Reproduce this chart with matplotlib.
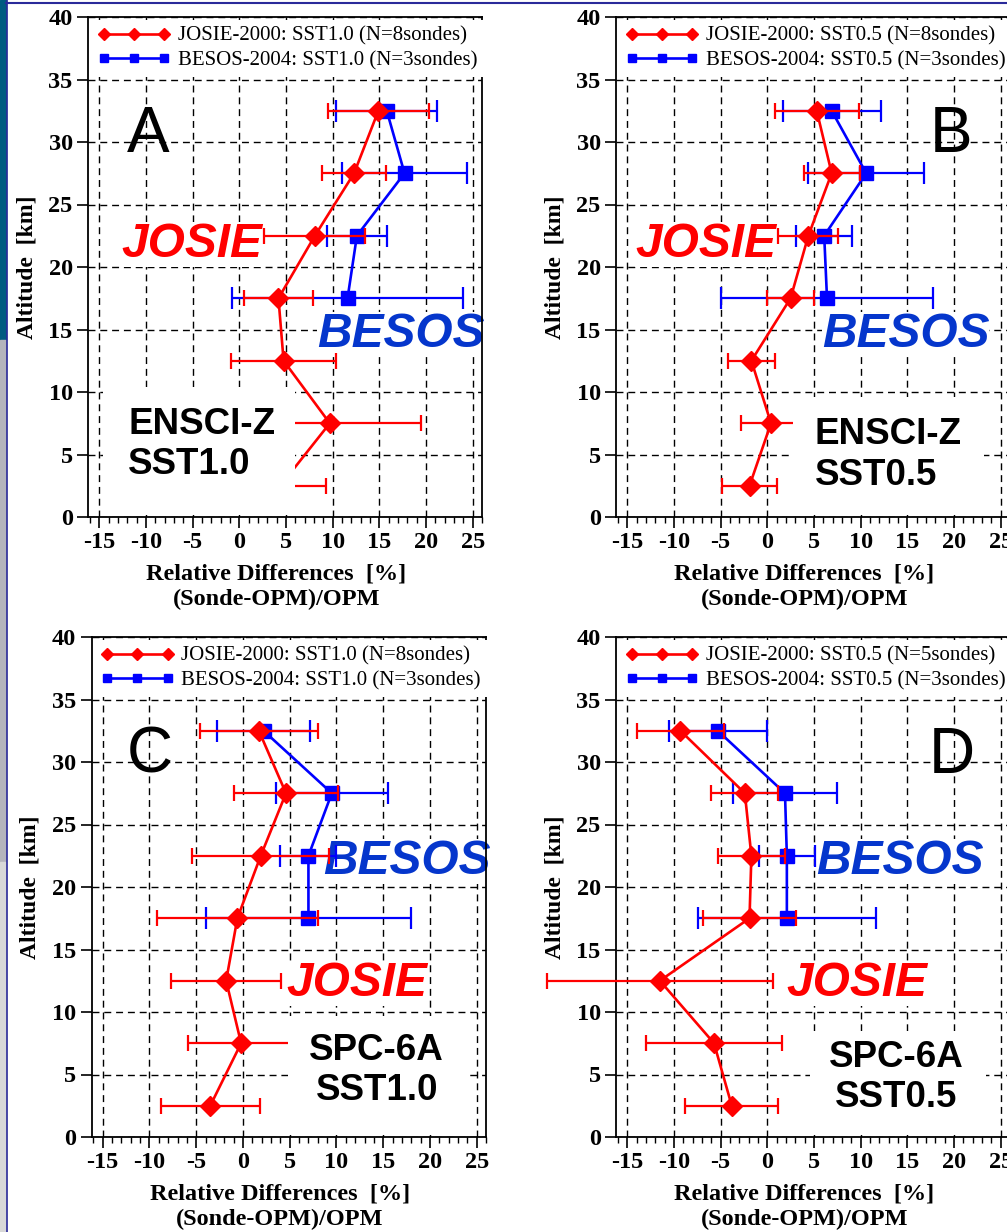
import numpy as np
import matplotlib
matplotlib.use('Agg')
import matplotlib.pyplot as plt
from matplotlib.patches import Rectangle
from matplotlib.lines import Line2D

plt.rcParams['axes.unicode_minus'] = False

W, H = 1007, 1232

# altitude bins [km]
alt_josie = [2.5, 7.5, 12.5, 17.5, 22.5, 27.5, 32.5]
alt_besos = [17.5, 22.5, 27.5, 32.5]

# panel A: ENSCI-Z SST1.0
josie_a = [4.4, 9.7, 4.75, 4.2, 8.1, 12.3, 14.9]
josie_a_err = [4.9, 9.8, 5.6, 3.7, 5.4, 3.4, 5.4]
besos_a = [11.6, 12.6, 17.7, 15.8]
besos_a_err = [12.4, 3.2, 6.7, 5.4]

# panel B: ENSCI-Z SST0.5
josie_b = [-1.9, 0.4, -1.7, 2.5, 4.4, 6.9, 5.3]
josie_b_err = [2.95, 3.2, 2.55, 2.5, 3.2, 3.0, 4.5]
besos_b = [6.4, 6.1, 10.6, 6.9]
besos_b_err = [11.4, 3.0, 6.2, 5.25]

# panel C: SPC-6A SST1.0
josie_c = [-3.5, -0.2, -1.8, -0.6, 1.9, 4.6, 1.7]
josie_c_err = [5.3, 5.7, 5.85, 8.6, 7.3, 5.6, 6.3]
besos_c = [7.0, 7.0, 9.5, 2.2]
besos_c_err = [11.0, 3.0, 6.0, 5.0]

# panel D: SPC-6A SST0.5
josie_d = [-3.8, -5.7, -11.5, -1.9, -1.7, -2.4, -9.3]
josie_d_err = [5.0, 7.3, 12.1, 5.0, 3.6, 3.6, 4.7]
besos_d = [2.1, 2.1, 1.9, -5.3]
besos_d_err = [9.5, 3.0, 5.6, 5.25]

legend_a = ['JOSIE-2000: SST1.0 (N=8sondes)', 'BESOS-2004: SST1.0 (N=3sondes)']
legend_b = ['JOSIE-2000: SST0.5 (N=8sondes)', 'BESOS-2004: SST0.5 (N=3sondes)']
legend_c = ['JOSIE-2000: SST1.0 (N=8sondes)', 'BESOS-2004: SST1.0 (N=3sondes)']
legend_d = ['JOSIE-2000: SST0.5 (N=5sondes)', 'BESOS-2004: SST0.5 (N=3sondes)']

xticks = [-15, -10, -5, 0, 5, 10, 15, 20, 25]
yticks = [0, 5, 10, 15, 20, 25, 30, 35, 40]

serif = 'Liberation Serif'
sans = 'Liberation Sans'
red = '#ff0000'
blue = '#0000ff'
besos_txt = '#0536cc'

fig = plt.figure(figsize=(W / 100, H / 100), dpi=100)
fig.patch.set_facecolor('white')


def px_axes(left, top, width, height):
    return fig.add_axes([left / W, 1 - (top + height) / H, width / W, height / H])


# slide decorations on the left / top edge
for y0, y1, col in [(0, 340, '#005a80'), (340, 862, '#b4b4bc'), (862, H, '#d8d8d8')]:
    fig.patches.append(Rectangle((0, 1 - y1 / H), 5.5 / W, (y1 - y0) / H,
                                 transform=fig.transFigure, color=col, zorder=0))
fig.lines.append(Line2D([6.5 / W, 6.5 / W], [0, 1], transform=fig.transFigure,
                        color='#2a2a9a', lw=1.2))
fig.lines.append(Line2D([6 / W, 1], [1 - 3 / H, 1 - 3 / H], transform=fig.transFigure,
                        color='#2a2a9a', lw=1.5))


def draw_panel(ax, jx, jerr, bx, berr, labels, letter, letter_xy,
               josie_xy, besos_xy, probe, probe_xy, probe_ha, box):
    ax.set_xlim(-16.2, 26)
    ax.set_ylim(0, 40)
    ax.set_axisbelow(True)
    ax.grid(True, color='k', lw=1.0, ls=(0, (5, 3.5)))

    ax.errorbar(bx, alt_besos, xerr=berr, fmt='none', ecolor=blue, elinewidth=1.6,
                capsize=8, capthick=1.6, clip_on=False, zorder=3)
    hb, = ax.plot(bx, alt_besos, color=blue, lw=1.9, marker='s', ms=9.5, zorder=3.5)
    ax.errorbar(jx, alt_josie, xerr=jerr, fmt='none', ecolor=red, elinewidth=1.6,
                capsize=5.5, capthick=1.6, clip_on=False, zorder=4)
    hj, = ax.plot(jx, alt_josie, color=red, lw=1.9, marker='D', ms=10, zorder=4.5)

    leg = ax.legend([hj, hb], labels, loc='upper left', bbox_to_anchor=(0, 1),
                    numpoints=3, markerscale=0.6, handlelength=3.5, handletextpad=0.35,
                    labelspacing=0.25, borderpad=0.3, borderaxespad=0.15,
                    frameon=True, fancybox=False, framealpha=1,
                    prop={'family': serif, 'size': 15})
    leg.get_frame().set_edgecolor('none')
    leg.set_zorder(7)

    # white box behind the probe label
    ax.add_patch(Rectangle((box[0], box[1]), box[2] - box[0], box[3] - box[1],
                           facecolor='white', edgecolor='none', zorder=5))

    ax.text(*letter_xy, letter, family=sans, fontsize=46, ha='center', va='center', zorder=6)
    ax.text(*josie_xy, 'JOSIE', family=sans, fontsize=34.5, weight='bold', style='italic',
            color=red, ha='center', va='center', zorder=2.5,
            bbox=dict(fc='white', ec='none', pad=0))
    ax.text(*besos_xy, 'BESOS', family=sans, fontsize=34.5, weight='bold', style='italic',
            color=besos_txt, ha='center', va='center', zorder=2.5,
            bbox=dict(fc='white', ec='none', pad=0))
    ax.text(*probe_xy, probe, family=sans, fontsize=26.5, weight='bold', ha=probe_ha,
            va='center', multialignment=probe_ha, zorder=6)

    ax.set_xticks(xticks)
    ax.set_yticks(yticks)
    ax.set_xticks(np.arange(-16, 27, 1), minor=True)
    ax.tick_params(axis='x', which='major', direction='out', length=8, width=1.2, pad=2.5)
    ax.tick_params(axis='x', which='minor', direction='out', length=4, width=1.0)
    ax.tick_params(axis='y', which='major', direction='out', length=8, width=1.2, pad=3)
    for lab in ax.get_xticklabels() + ax.get_yticklabels():
        lab.set_family(serif)
        lab.set_fontsize(17.5)
        lab.set_weight('bold')
    for sp in ax.spines.values():
        sp.set_linewidth(1.3)

    ax.set_xlabel('Relative Differences  [%]\n(Sonde-OPM)/OPM', family=serif,
                  fontsize=17.5, weight='bold', linespacing=1.3)
    ax.xaxis.set_label_coords(0.478, -0.093)
    ax.set_ylabel('Altitude  [km]', family=serif, fontsize=17, weight='bold')
    ax.yaxis.set_label_coords(-0.128, 0.5)


ax_a = px_axes(88, 17, 394, 500)
ax_b = px_axes(616, 17, 394, 500)
ax_c = px_axes(91.5, 637, 394.6, 500)
ax_d = px_axes(616, 637, 394, 500)

draw_panel(ax_a, josie_a, josie_a_err, besos_a, besos_a_err, legend_a,
           'A', (-9.75, 30.6), (-5.1, 21.8), (17.3, 14.6),
           'ENSCI-Z\nSST1.0', (-11.9, 5.8), 'left', (-14.6, 0.2, 6.0, 10.4))
draw_panel(ax_b, josie_b, josie_b_err, besos_b, besos_b_err, legend_b,
           'B', (19.7, 30.6), (-6.6, 21.8), (14.8, 14.6),
           'ENSCI-Z\nSST0.5', (5.1, 4.95), 'left', (2.8, 0.2, 23.2, 9.6))
draw_panel(ax_c, josie_c, josie_c_err, besos_c, besos_c_err, legend_c,
           'C', (-10.0, 30.5), (12.2, 12.3), (17.5, 22.05),
           'SPC-6A\nSST1.0', (14.3, 5.3), 'center', (4.85, 0.2, 23.9, 9.7))
draw_panel(ax_d, josie_d, josie_d_err, besos_d, besos_d_err, legend_d,
           'D', (19.8, 30.5), (9.6, 12.3), (14.25, 22.05),
           'SPC-6A\nSST0.5', (13.85, 4.75), 'center', (4.6, 0.2, 23.4, 8.5))

fig.savefig('out.png', dpi=100)
